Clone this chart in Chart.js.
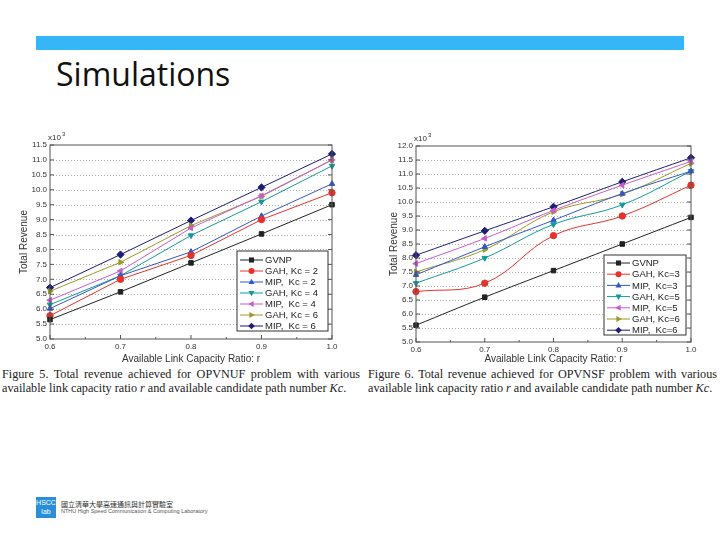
<!DOCTYPE html>
<html>
<head>
<meta charset="utf-8">
<script src="https://cdn.jsdelivr.net/npm/chart.js"></script>
<style>
  body { margin: 0; width: 720px; height: 540px; background: #fff; position: relative; overflow: hidden; font-family: "Liberation Sans", Arial, sans-serif; }
  .bar { position: absolute; left: 36px; top: 36px; width: 648px; height: 14px; background: #35b6f6; }
  .title { position: absolute; left: 56px; top: 52px; font-family: "Open Sans", sans-serif; font-size: 32px; line-height: normal; color: #111; }
  .wrap { position: absolute; }
  .cap { position: absolute; top: 367px; font-family: "Liberation Serif", "Times New Roman", serif; font-size: 12.2px; line-height: 14px; color: #222; text-align: justify; text-align-last: left; }
  .logo { position: absolute; left: 36px; top: 497px; width: 20px; height: 21px; background: #2a8fd8; color: #fff; font-size: 7px; line-height: 9px; text-align: center; padding-top: 1px; box-sizing: border-box; }
  .lt1 { position: absolute; left: 61px; top: 499px; font-family: "Noto Sans CJK TC", sans-serif; font-size: 7px; color: #333; }
  .lt2 { position: absolute; left: 61px; top: 508px; font-size: 5.5px; color: #555; }
</style>
</head>
<body>
<div class="bar"></div>
<div class="title">Simulations</div>

<div class="wrap" style="left:18px; top:120px; width:342px; height:245px;"><canvas id="fig5"></canvas></div>
<div class="wrap" style="left:388px; top:130px; width:332px; height:235px;"><canvas id="fig6"></canvas></div>

<div class="cap" style="left:2px; width:358px;">Figure 5. Total revenue achieved for OPVNUF problem with various available link capacity ratio <i>r</i> and available candidate path number <i>Kc</i>.</div>
<div class="cap" style="left:368px; width:349px;">Figure 6. Total revenue achieved for OPVNSF problem with various available link capacity ratio <i>r</i> and available candidate path number <i>Kc</i>.</div>

<div class="logo">HSCC<br>lab</div>
<div class="lt1">國立清華大學高速通訊與計算實驗室</div>
<div class="lt2">NTHU High Speed Communication &amp; Computing Laboratory</div>

<script>
// capacity ratio r (x axis)
const ratios = [0.6, 0.7, 0.8, 0.9, 1.0];

// Figure 5 (x10^3)
const fig5Labels = ['GVNP', 'GAH, Kc = 2', 'MIP,  Kc = 2', 'GAH, Kc = 4', 'MIP,  Kc = 4', 'GAH, Kc = 6', 'MIP,  Kc = 6'];
const fig5Gvnp = [5.65, 6.58, 7.55, 8.52, 9.50];
const fig5GahK2 = [5.78, 7.00, 7.80, 9.00, 9.90];
const fig5MipK2 = [6.02, 7.12, 7.92, 9.12, 10.20];
const fig5GahK4 = [6.15, 7.12, 8.47, 9.60, 10.80];
const fig5MipK4 = [6.30, 7.28, 8.72, 9.80, 11.00];
const fig5GahK6 = [6.60, 7.57, 8.80, 9.78, 11.00];
const fig5MipK6 = [6.72, 7.83, 8.97, 10.08, 11.20];

// Figure 6 (x10^3)
const fig6Labels = ['GVNP', 'GAH, Kc=3', 'MIP,  Kc=3', 'GAH, Kc=5', 'MIP,  Kc=5', 'GAH, Kc=6', 'MIP,  Kc=6'];
const fig6Gvnp = [5.60, 6.60, 7.55, 8.50, 9.45];
const fig6GahK3 = [6.80, 7.10, 8.80, 9.50, 10.60];
const fig6MipK3 = [7.40, 8.40, 9.35, 10.30, 11.10];
const fig6GahK5 = [7.10, 8.00, 9.20, 9.90, 11.10];
const fig6MipK5 = [7.80, 8.70, 9.70, 10.60, 11.45];
const fig6GahK6 = [7.50, 8.30, 9.65, 10.28, 11.38];
const fig6MipK6 = [8.10, 8.97, 9.83, 10.72, 11.58];

// marker styles per series
const colors = ['#222222', '#e6322c', '#3456c8', '#129a9a', '#c85ccc', '#9a9a28', '#1d1d78'];
const shapes = ['rect', 'circle', 'triangle', 'triangle', 'triangle', 'triangle', 'rectRot'];
const rotations = [0, 0, 0, 180, 270, 90, 0];

function makeSets(labels, series, smooth) {
  return series.map((vals, i) => ({
    label: labels[i],
    data: vals.map((v, j) => ({ x: ratios[j], y: v })),
    borderColor: colors[i],
    backgroundColor: colors[i],
    borderWidth: 1,
    pointStyle: shapes[i],
    rotation: rotations[i],
    pointRadius: shapes[i] === 'rectRot' ? 3.6 : 3.2,
    tension: smooth ? 0.4 : 0,
    clip: false
  }));
}

function drawMarker(ctx, shape, rot, x, y, r) {
  ctx.save();
  ctx.translate(x, y);
  ctx.rotate(rot * Math.PI / 180);
  ctx.beginPath();
  if (shape === 'rect') {
    ctx.rect(-r * 0.85, -r * 0.85, r * 1.7, r * 1.7);
  } else if (shape === 'circle') {
    ctx.arc(0, 0, r, 0, Math.PI * 2);
  } else if (shape === 'rectRot') {
    ctx.moveTo(0, -r * 1.1); ctx.lineTo(r * 1.1, 0); ctx.lineTo(0, r * 1.1); ctx.lineTo(-r * 1.1, 0); ctx.closePath();
  } else {
    ctx.moveTo(0, -r * 1.1); ctx.lineTo(r, r * 0.7); ctx.lineTo(-r, r * 0.7); ctx.closePath();
  }
  ctx.fill();
  ctx.restore();
}

const framePlugin = {
  id: 'frame',
  beforeDatasetsDraw(chart) {
    // dotted horizontal grid
    const { ctx, chartArea: a, scales } = chart;
    ctx.save();
    ctx.strokeStyle = '#9a9a9a';
    ctx.lineWidth = 0.8;
    ctx.setLineDash([1, 2]);
    ctx.beginPath();
    scales.y.ticks.forEach(t => {
      const py = Math.round(scales.y.getPixelForValue(t.value)) + 0.5;
      if (py > a.top + 1 && py < a.bottom - 1) { ctx.moveTo(a.left, py); ctx.lineTo(a.right, py); }
    });
    ctx.stroke();
    ctx.restore();
  },
  afterDraw(chart, args, opts) {
    const { ctx, chartArea: a, scales } = chart;
    const x = scales.x, y = scales.y;
    ctx.save();
    ctx.strokeStyle = '#555';
    ctx.lineWidth = 1;
    ctx.strokeRect(a.left, a.top, a.right - a.left, a.bottom - a.top);
    ctx.beginPath();
    y.ticks.forEach(t => {
      const py = y.getPixelForValue(t.value);
      ctx.moveTo(a.left, py); ctx.lineTo(a.left + 4, py);
      ctx.moveTo(a.right, py); ctx.lineTo(a.right - 4, py);
    });
    x.ticks.forEach((t, i) => {
      const px = x.getPixelForValue(t.value);
      ctx.moveTo(px, a.bottom); ctx.lineTo(px, a.bottom - 4);
      if (i < x.ticks.length - 1) {
        const mx = x.getPixelForValue(t.value + 0.05);
        ctx.moveTo(mx, a.bottom); ctx.lineTo(mx, a.bottom - 2);
      }
    });
    ctx.stroke();

    // x10^3 label
    ctx.fillStyle = '#333';
    ctx.font = '8px "Liberation Sans", Arial';
    ctx.textBaseline = 'alphabetic';
    ctx.fillText('x10', a.left - 2, a.top - 5);
    ctx.font = '6px "Liberation Sans", Arial';
    ctx.fillText('3', a.left + 12, a.top - 9);

    // legend box inside plot, bottom right
    const lg = opts.legend;
    const bx = a.right - lg.right - lg.w, by = a.bottom - lg.bottom - lg.h;
    ctx.fillStyle = '#fff';
    ctx.fillRect(bx, by, lg.w, lg.h);
    ctx.strokeStyle = '#333';
    ctx.strokeRect(bx, by, lg.w, lg.h);
    ctx.font = '9.5px "Liberation Sans", Arial';
    ctx.textBaseline = 'middle';
    chart.data.datasets.forEach((ds, i) => {
      const cy = by + lg.first + i * lg.step;
      ctx.strokeStyle = ds.borderColor;
      ctx.beginPath();
      ctx.moveTo(bx + 3, cy); ctx.lineTo(bx + 3 + lg.line, cy);
      ctx.stroke();
      ctx.fillStyle = ds.borderColor;
      drawMarker(ctx, ds.pointStyle, ds.rotation, bx + 3 + lg.line / 2, cy, 3);
      ctx.fillStyle = '#222';
      ctx.fillText(ds.label, bx + lg.line + 5, cy + 0.5);
    });
    ctx.restore();
  }
};

function makeChart(id, labels, series, smooth, yMax, yWidth, xHeight, pad, legend) {
  return new Chart(document.getElementById(id), {
    type: 'line',
    data: { datasets: makeSets(labels, series, smooth) },
    options: {
      responsive: true,
      maintainAspectRatio: false,
      animation: false,
      layout: { padding: pad },
      plugins: { legend: { display: false }, tooltip: { enabled: false }, frame: { legend: legend } },
      scales: {
        x: {
          type: 'linear', min: 0.6, max: 1.0,
          ticks: { stepSize: 0.1, padding: 3, color: '#333', font: { size: 8, family: 'Liberation Sans' }, callback: v => v.toFixed(1) },
          grid: { display: false, drawTicks: false },
          border: { display: false },
          title: { display: true, text: 'Available Link Capacity Ratio: r', color: '#333', padding: 0, font: { size: 10, family: 'Liberation Sans' } },
          afterFit: s => { s.height = xHeight; }
        },
        y: {
          min: 5, max: yMax,
          ticks: { stepSize: 0.5, padding: 3, color: '#333', font: { size: 8, family: 'Liberation Sans' }, callback: v => v.toFixed(1) },
          grid: { display: false, drawTicks: false },
          border: { display: false },
          title: { display: true, text: 'Total Revenue', color: '#333', padding: 0, font: { size: 10, family: 'Liberation Sans' } },
          afterFit: s => { s.width = yWidth; }
        }
      }
    },
    plugins: [framePlugin]
  });
}

makeChart('fig5', fig5Labels,
  [fig5Gvnp, fig5GahK2, fig5MipK2, fig5GahK4, fig5MipK4, fig5GahK6, fig5MipK6],
  false, 11.5, 32, 26, { top: 25, right: 28, left: 0, bottom: 0 },
  { w: 91, h: 80, right: 4, bottom: 8, first: 9, step: 11, line: 23 });

makeChart('fig6', fig6Labels,
  [fig6Gvnp, fig6GahK3, fig6MipK3, fig6GahK5, fig6MipK5, fig6GahK6, fig6MipK6],
  true, 12.0, 28, 23, { top: 16, right: 29, left: 0, bottom: 0 },
  { w: 82, h: 80, right: 5, bottom: 7, first: 8, step: 11.2, line: 23 });
</script>
</body>
</html>
